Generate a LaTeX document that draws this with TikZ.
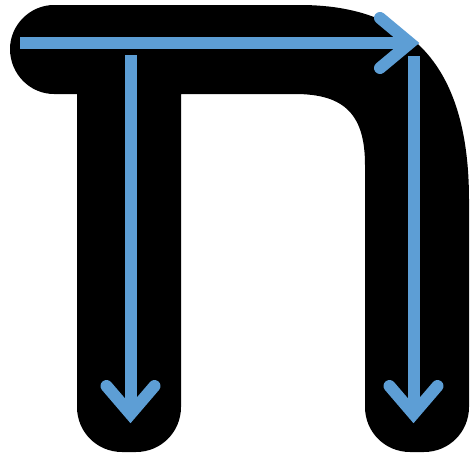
\documentclass[tikz,border=0pt]{standalone}
\usetikzlibrary{calc}
\definecolor{strokeblue}{RGB}{93,158,213}

\begin{document}
\begin{tikzpicture}[x=1pt, y=-1pt, stroke/.style={draw=strokeblue,line width=12pt}, head/.style={stroke,line cap=round,line join=miter}]
\useasboundingbox (0,0) rectangle (471,456);
% letter body
\fill[black] (10,49) .. controls (10,25) and (30,5) .. (54,5) -- (300,5)
  .. controls (430,5) and (469,90) .. (469,200) -- (469,407)
  .. controls (469,432) and (449,452) .. (424,452) -- (410,452)
  .. controls (385,452) and (365,432) .. (365,407) -- (365,165)
  .. controls (365,115) and (345,94) .. (295,94) -- (181,94) -- (181,407)
  .. controls (181,432) and (161,452) .. (136,452) -- (122,452)
  .. controls (97,452) and (77,432) .. (77,407) -- (77,94) -- (54,94)
  .. controls (30,94) and (10,74) .. (10,49) -- cycle;
% stroke 1: top bar
\coordinate (topstart) at (20,43);
\coordinate (topend) at (410,43);
\draw[stroke] (topstart) -- (topend);
\draw[head] ($(topend)+(-30,-25)$) -- (topend) -- ($(topend)+(-30,25)$);
% stroke 2: left leg
\coordinate (leftstart) at (130.5,55);
\coordinate (leftend) at (130.5,414);
\draw[stroke] (leftstart) -- (leftend);
\draw[head] ($(leftend)+(-24,-28)$) -- (leftend) -- ($(leftend)+(24,-28)$);
% stroke 3: right leg
\coordinate (rightstart) at (413.5,56);
\coordinate (rightend) at (413.5,414);
\draw[stroke] (rightstart) -- (rightend);
\draw[head] ($(rightend)+(-24,-28)$) -- (rightend) -- ($(rightend)+(24,-28)$);
\end{tikzpicture}
\end{document}
